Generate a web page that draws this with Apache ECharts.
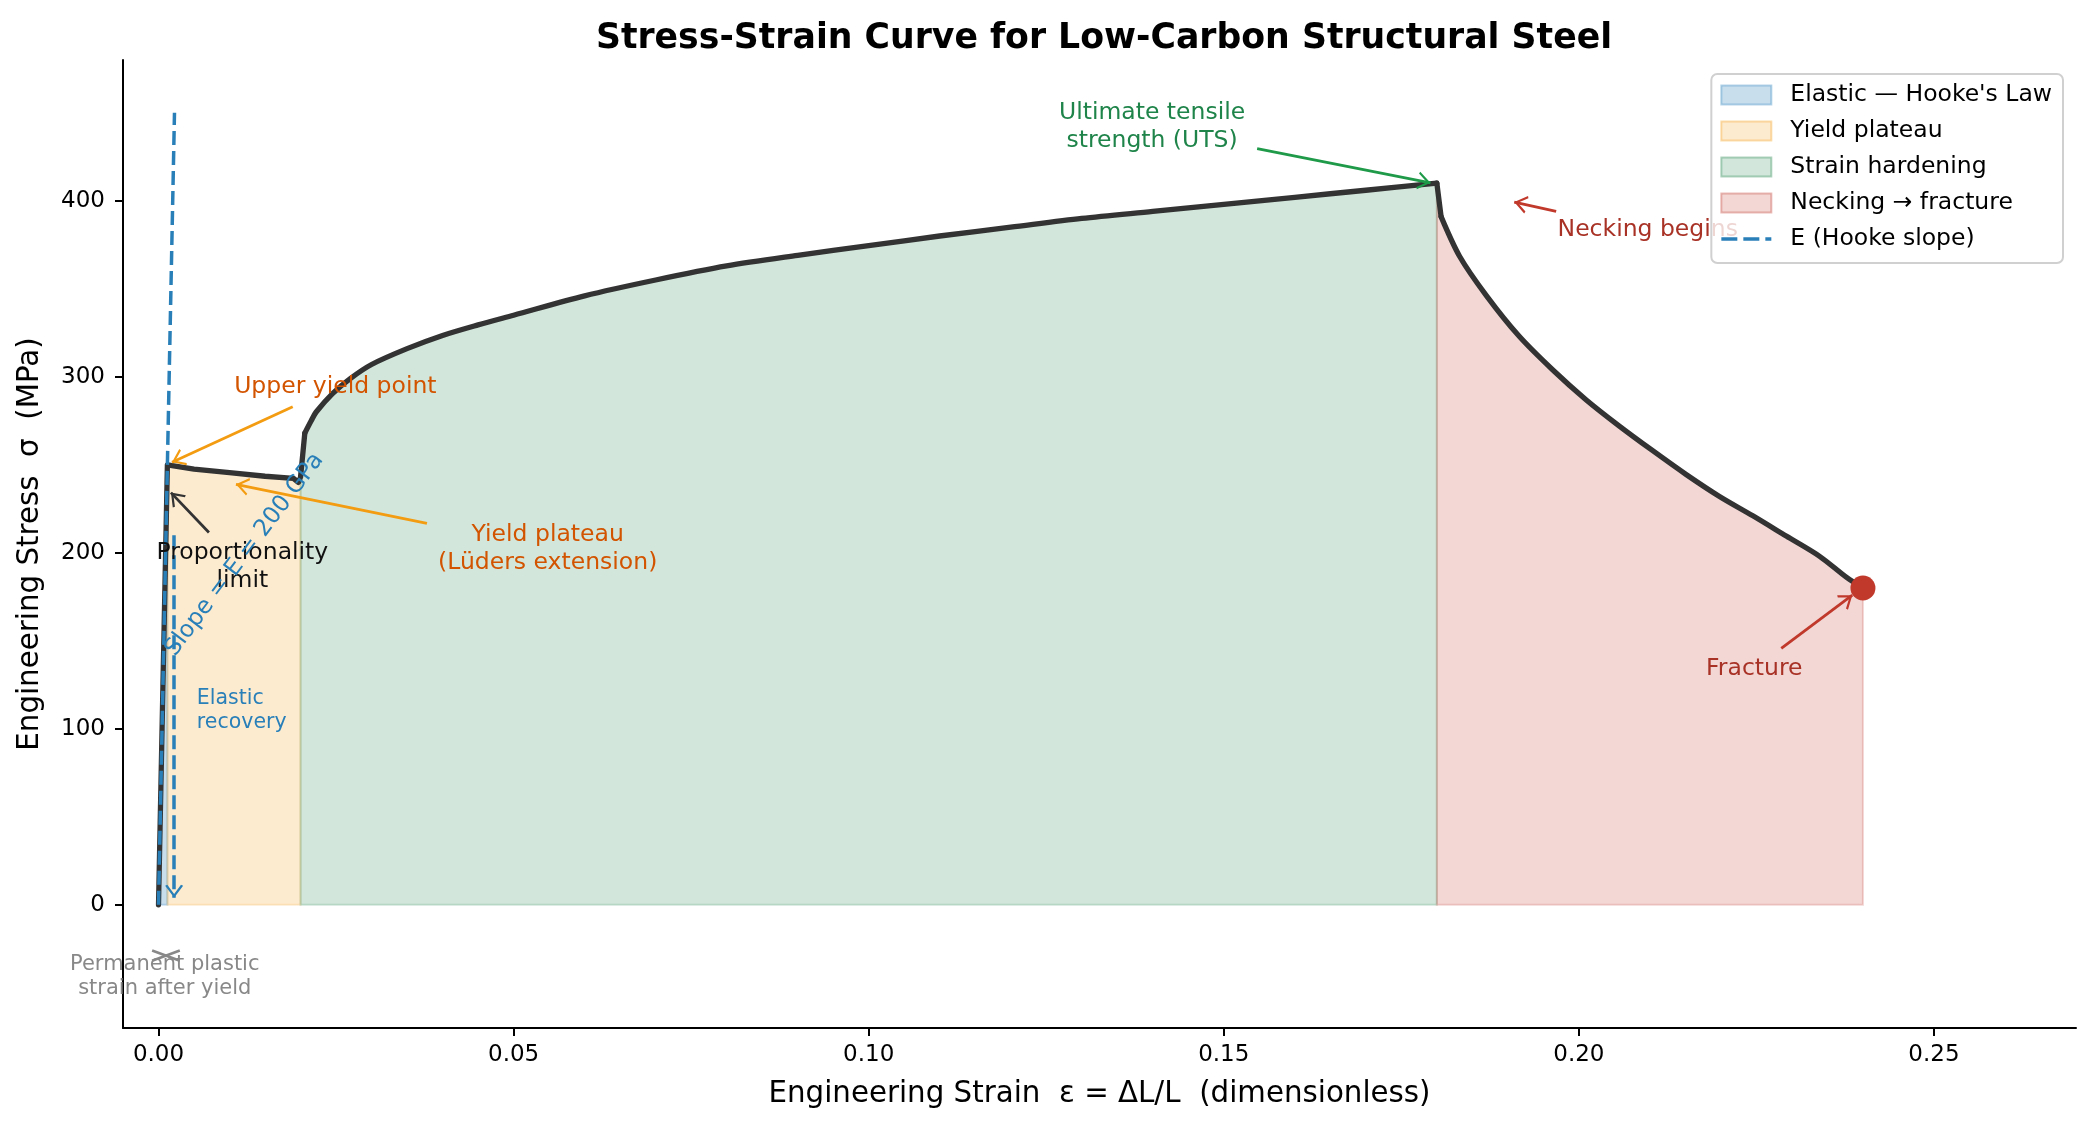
<!DOCTYPE html>
<html>
<head>
<meta charset="utf-8">
<script src="https://cdn.jsdelivr.net/npm/echarts@6/dist/echarts.min.js"></script>
<style>
html, body { margin: 0; padding: 0; background: #fff; }
#chart { width: 2093px; height: 1130px; }
</style>
</head>
<body>
<div id="chart"></div>
<script>
// engineering strain / stress
var strain = [0, 0.00125, 0.005, 0.01, 0.015, 0.019, 0.0197, 0.02, 0.0206, 0.0215, 0.0222, 0.0245, 0.027, 0.03,
    0.035, 0.04, 0.045, 0.05, 0.06, 0.07, 0.08, 0.09, 0.10, 0.11, 0.12, 0.13, 0.14, 0.15, 0.16, 0.17, 0.18,
    0.1806, 0.1832, 0.187, 0.1916, 0.1963, 0.201, 0.2057, 0.2104, 0.2151, 0.2198, 0.2245, 0.2292, 0.2339, 0.2377, 0.24];
var stress = [0, 250, 247.5, 245.5, 243.5, 242.3, 240, 243, 268, 275, 280, 290.5, 299, 307,
    316, 323.5, 329.5, 335, 346, 355, 363, 369, 374.5, 380, 385, 390, 394, 398, 402, 406, 410,
    391, 368.5, 346, 323, 304, 287, 272, 258, 244.5, 232, 221, 209.5, 198, 186, 180];

// regions of the curve
var regionNames = ["Elastic — Hooke's Law", 'Yield plateau', 'Strain hardening', 'Necking → fracture'];
var regionEdges = [0, 0.00125, 0.02, 0.18, 0.24];
var regionColors = ['rgba(41,128,185,0.26)', 'rgba(243,156,18,0.2)', 'rgba(30,132,73,0.2)', 'rgba(192,57,43,0.2)'];

// parts of the curve that are drawn smooth (hardening, necking)
var smoothParts = [[0.0206, 0.18], [0.1806, 0.24]];

// E = 200 GPa reference line
var hookeStrain = [0, 0.00225];
var hookeStress = [0, 450];

var xTicks = [0, 0.05, 0.10, 0.15, 0.20, 0.25];
var yTicks = [0, 100, 200, 300, 400];

var chart = echarts.init(document.getElementById('chart'));

var curve = strain.map(function (e, i) { return [e, stress[i]]; });
var hooke = hookeStrain.map(function (e, i) { return [e, hookeStress[i]]; });

// open arrow head, tip in the middle of its box so it ends on the point
var chevron = 'path://M10,-15 L10.01,-15 Z M10,0 L20,14 L17.6,15 L10,4.2 L2.4,15 L0,14 Z';
var dashIcon = 'path://M0,0 L16,0 L16,3.6 L0,3.6 Z M22,0 L38,0 L38,3.6 L22,3.6 Z M44,0 L50,0 L50,3.6 L44,3.6 Z';

// texts of the annotations
var notes = [
    {text: 'Upper yield point', at: [0.0249, 294], color: '#d35400'},
    {text: 'Yield plateau\n(Lüders extension)', at: [0.0548, 202.3], color: '#d35400'},
    {text: 'Proportionality\nlimit', at: [0.0118, 192], color: '#111111'},
    {text: 'Slope = E = 200 GPa', at: [0.0121, 199], color: '#2980b9', rotate: 53},
    {text: 'Elastic\nrecovery', at: [0.0054, 110.4], color: '#2980b9', size: 20.5, lh: 24, left: true},
    {text: 'Permanent plastic\nstrain after yield', at: [0.00088, -41], color: '#888888', size: 21, lh: 24},
    {text: 'Ultimate tensile\nstrength (UTS)', at: [0.1399, 441.8], color: '#1e8449'},
    {text: 'Necking begins', at: [0.197, 383.7], color: '#a93226', left: true},
    {text: 'Fracture', at: [0.2247, 134.3], color: '#a93226'}
];

var arrows = [
    {from: [0.0189, 283], to: [0.0019, 251.5], color: '#f39c12'},
    {from: [0.0378, 216.7], to: [0.0109, 238.9], color: '#f39c12'},
    {from: [0.0071, 211.5], to: [0.00175, 234.2], color: '#333333'},
    {from: [0.1547, 429.6], to: [0.1791, 410.2], color: '#1e9a48'},
    {from: [0.1968, 394], to: [0.1909, 399.3], color: '#c0392b'},
    {from: [0.2285, 145.7], to: [0.2385, 175.9], color: '#c0392b'}
];

var arrowLines = arrows.map(function (a) {
    return [
        {coord: a.from, lineStyle: {color: a.color, width: 2.8, type: 'solid'}},
        {coord: a.to}
    ];
});
// little grey cross under the origin
arrowLines.push([{coord: [-0.0009, -26], symbol: 'none', lineStyle: {color: '#888', width: 2.6, type: 'solid'}}, {coord: [0.003, -31.8], symbol: 'none'}]);
arrowLines.push([{coord: [-0.0009, -31.8], symbol: 'none', lineStyle: {color: '#888', width: 2.6, type: 'solid'}}, {coord: [0.003, -26], symbol: 'none'}]);

function regionSeries(k) {
    var a = regionEdges[k], b = regionEdges[k + 1];
    var pts = curve.filter(function (p) { return p[0] >= a && p[0] <= b; });
    var fill = regionColors[k];
    return {
        type: 'custom',
        name: regionNames[k],
        data: pts,
        z: 1,
        silent: true,
        itemStyle: {color: fill, borderColor: fill},
        renderItem: function (params, api) {
            if (params.dataIndex !== 0) return null;
            var poly = pts.map(function (p) { return api.coord(p); });
            poly.push(api.coord([pts[pts.length - 1][0], 0]));
            poly.push(api.coord([pts[0][0], 0]));
            return {type: 'polygon', shape: {points: poly}, style: {fill: fill, stroke: fill, lineWidth: 2}};
        }
    };
}

function curvePart(a, b, smooth) {
    return {
        type: 'line',
        name: 'curve',
        data: curve.filter(function (p) { return p[0] >= a && p[0] <= b; }),
        symbol: 'none',
        smooth: smooth ? 0.3 : false,
        z: 3,
        lineStyle: {color: '#333333', width: 5.3, join: 'round', cap: 'round'}
    };
}

var series = [];
for (var k = 0; k < regionNames.length; k++) series.push(regionSeries(k));

// straight pieces and smooth pieces of the curve
series.push(curvePart(0, smoothParts[0][0], false));
series.push(curvePart(smoothParts[0][0], smoothParts[0][1], true));
series.push(curvePart(smoothParts[0][1], smoothParts[1][0], false));
series.push(curvePart(smoothParts[1][0], smoothParts[1][1], true));

// arrows ride on the first curve piece
series[regionNames.length].markLine = {
    silent: true,
    symbol: ['none', chevron],
    symbolSize: [18, 26],
    label: {show: false},
    data: arrowLines,
    animation: false
};

series.push({
    type: 'line',
    name: 'E (Hooke slope)',
    data: hooke,
    symbol: 'none',
    z: 4,
    itemStyle: {color: '#2980b9'},
    lineStyle: {color: '#2980b9', width: 3.5, type: [14, 6]},
    markLine: {
        silent: true,
        symbol: ['none', chevron],
        symbolSize: [18, 26],
        label: {show: false},
        data: [[{coord: [0.0022, 210], lineStyle: {color: '#2980b9', width: 3.5, type: [14, 6]}}, {coord: [0.0022, 4]}]],
        animation: false
    }
});

series.push({
    type: 'scatter',
    name: 'fracture point',
    data: [curve[curve.length - 1]],
    symbolSize: 25,
    z: 5,
    itemStyle: {color: '#c0392b', opacity: 1}
});

chart.setOption({
    animation: false,
    textStyle: {fontFamily: 'DejaVu Sans'},
    title: {
        text: 'Stress-Strain Curve for Low-Carbon Structural Steel',
        left: 1099,
        textAlign: 'center',
        top: 16,
        textStyle: {fontSize: 34.7, fontWeight: 'bold', color: '#000'}
    },
    grid: {left: 123, right: 17, top: 60, bottom: 102, containLabel: false},
    legend: {
        orient: 'vertical',
        right: 30,
        top: 74,
        padding: [9, 11, 12, 9],
        itemWidth: 50,
        itemHeight: 19,
        itemGap: 12,
        selectedMode: false,
        z: 100,
        backgroundColor: 'rgba(255,255,255,0.8)',
        borderColor: '#d0d0d0',
        borderWidth: 2,
        borderRadius: 6,
        textStyle: {fontSize: 23.5, color: '#000', padding: [0, 0, 0, 14]},
        data: regionNames.map(function (n, i) {
            return {name: n, icon: 'rect', itemStyle: {color: regionColors[i], borderColor: regionColors[i].replace(/[\d.]+\)$/, '0.35)'), borderWidth: 2}};
        }).concat([{name: 'E (Hooke slope)', icon: dashIcon, itemStyle: {color: '#2980b9', borderWidth: 0}}])
    },
    xAxis: {
        type: 'value',
        min: -0.005,
        max: 0.27,
        splitLine: {show: false},
        axisLine: {onZero: false, lineStyle: {color: '#000', width: 2}},
        axisTick: {customValues: xTicks, length: 8, lineStyle: {color: '#000', width: 2}},
        axisLabel: {customValues: xTicks, fontSize: 23, color: '#000', margin: 16,
            formatter: function (v) { return v.toFixed(2); }},
        name: 'Engineering Strain  ε = ΔL/L  (dimensionless)',
        nameLocation: 'middle',
        nameGap: 52,
        nameTextStyle: {fontSize: 29.3, color: '#000'}
    },
    yAxis: {
        type: 'value',
        min: -70,
        max: 480,
        splitLine: {show: false},
        axisLine: {onZero: false, lineStyle: {color: '#000', width: 2}},
        axisTick: {customValues: yTicks, length: 8, lineStyle: {color: '#000', width: 2}},
        axisLabel: {customValues: yTicks, fontSize: 23, color: '#000', margin: 18},
        name: 'Engineering Stress  σ  (MPa)',
        nameLocation: 'middle',
        nameGap: 78,
        nameTextStyle: {fontSize: 29.3, color: '#000'}
    },
    series: series
});

// annotation texts, placed with the chart's own scales (legend sits above them)
var noteGraphics = notes.map(function (n) {
    var p = chart.convertToPixel({gridIndex: 0}, n.at);
    return {
        type: 'text',
        x: p[0],
        y: p[1],
        rotation: (n.rotate || 0) * Math.PI / 180,
        z: 50,
        silent: true,
        style: {
            text: n.text,
            fill: n.color,
            fontSize: n.size || 23.5,
            fontFamily: 'DejaVu Sans',
            lineHeight: n.lh || 28,
            align: n.left ? 'left' : 'center',
            verticalAlign: 'middle'
        }
    };
});
chart.setOption({graphic: noteGraphics});
</script>
</body>
</html>
